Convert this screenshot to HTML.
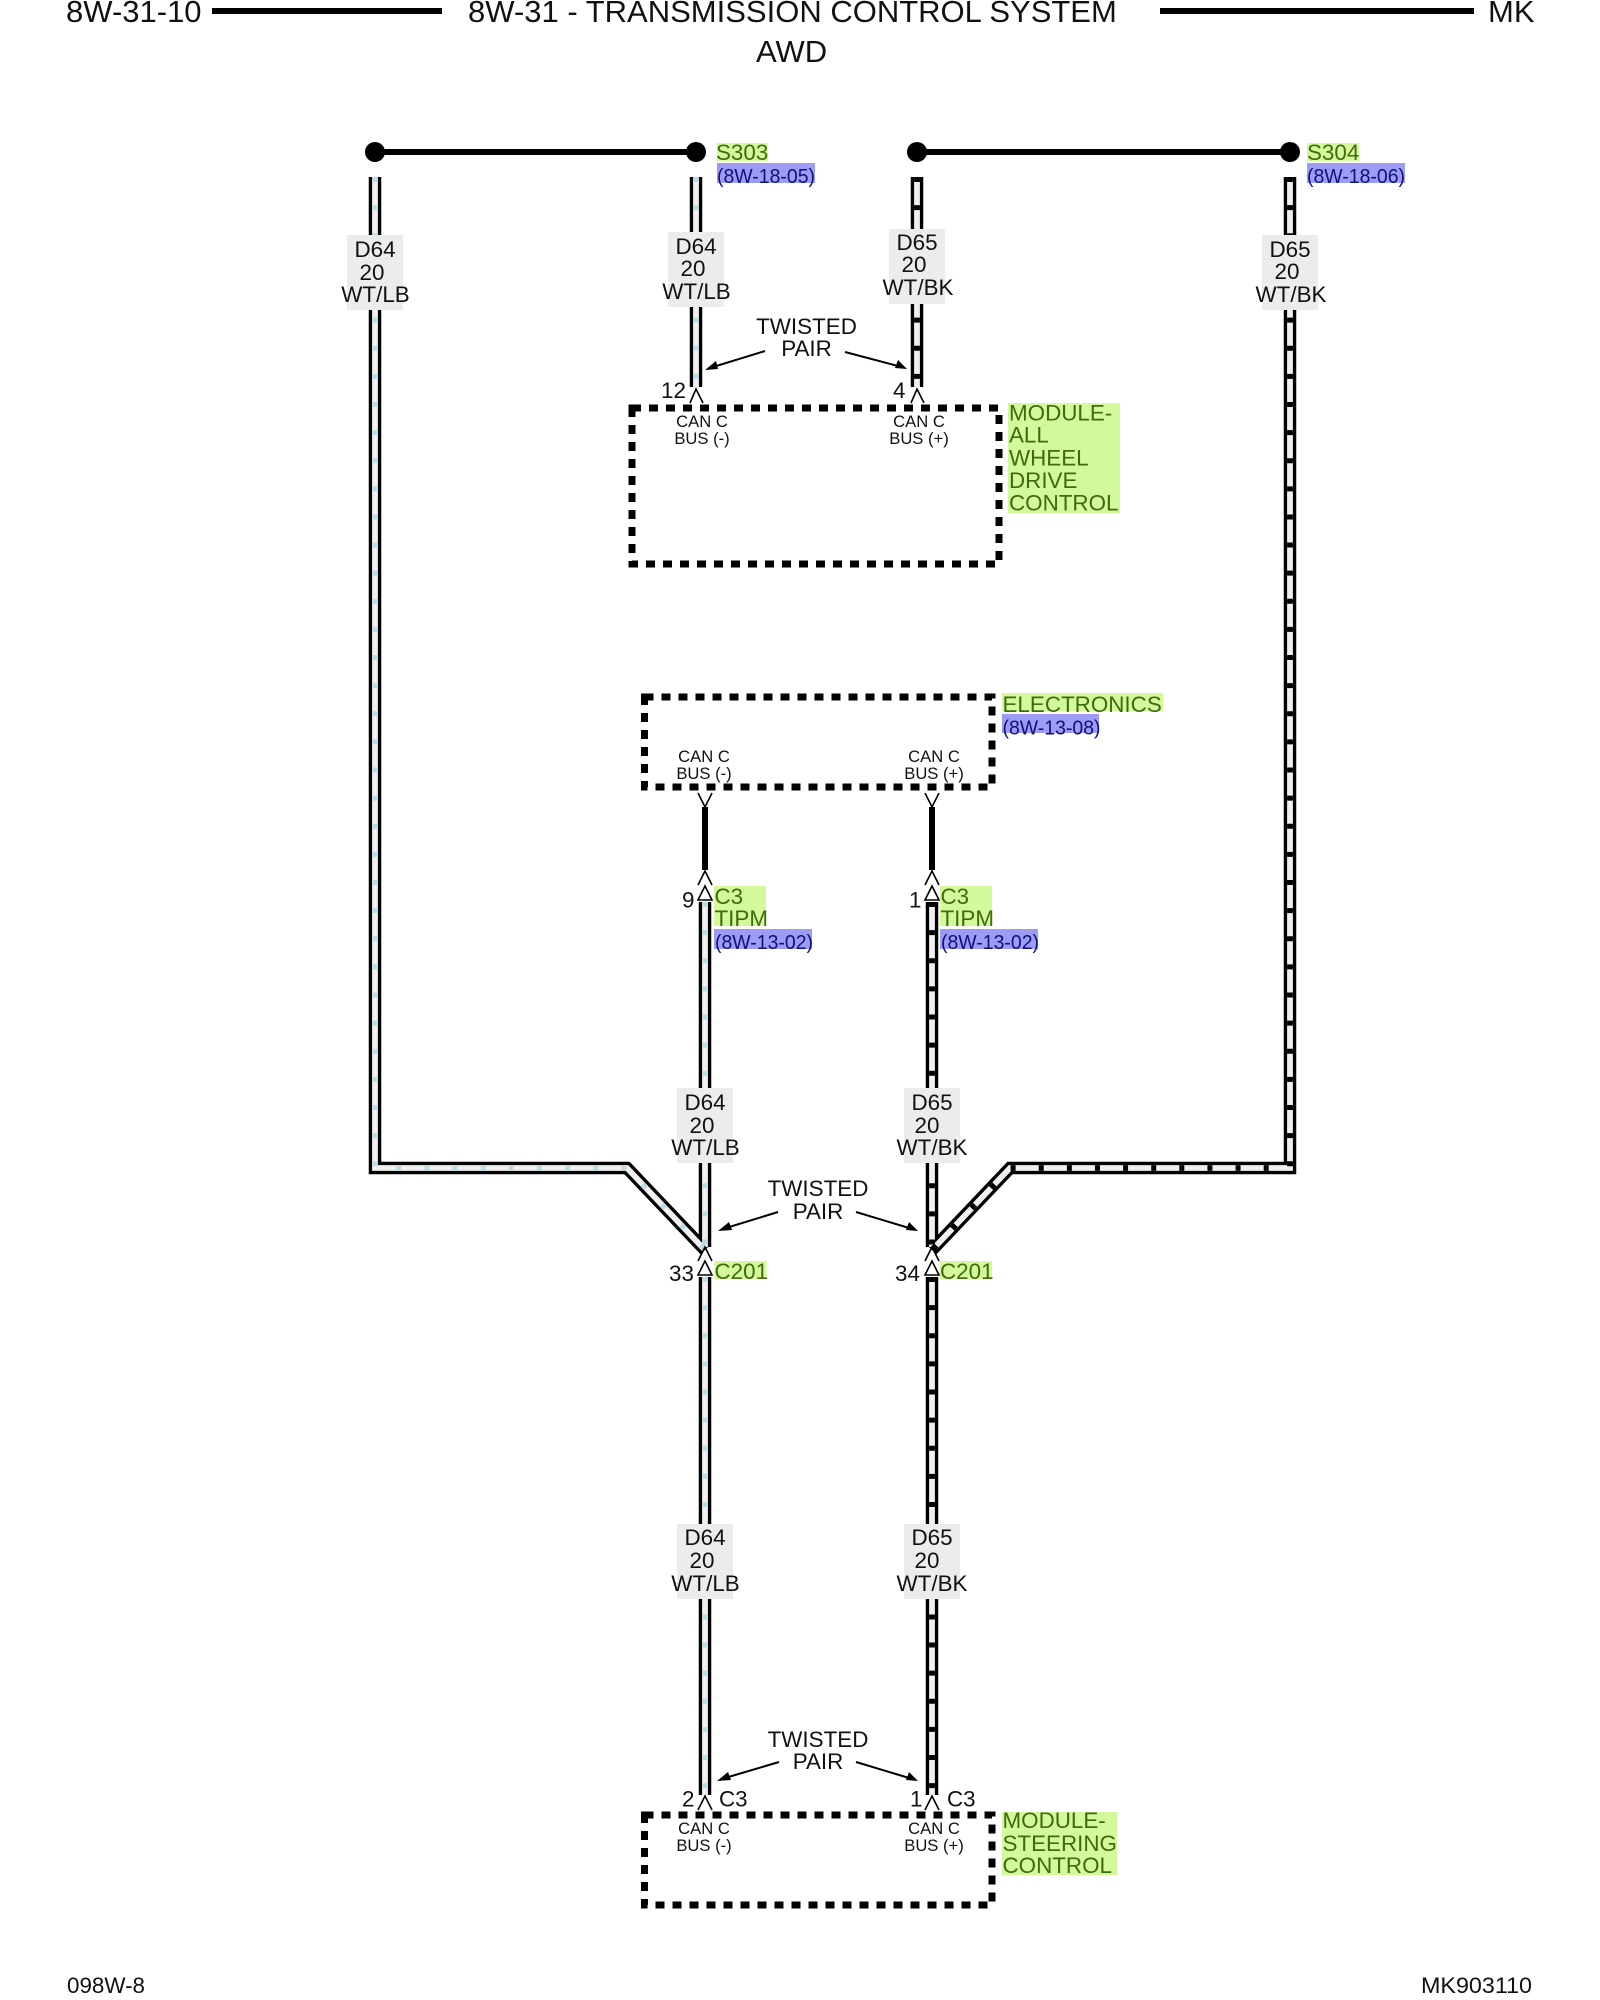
<!DOCTYPE html>
<html>
<head>
<meta charset="utf-8">
<style>
html,body{margin:0;padding:0;background:#fff;width:1600px;height:2000px;overflow:hidden}
svg{display:block}
text{font-family:"Liberation Sans",sans-serif;font-size:22.4px;fill:#111}
.h{font-size:31px}
.s{font-size:16.6px;text-anchor:middle}
.m{text-anchor:middle}
.g{fill:#3f6b10}
.p{fill:#10107a;font-size:20px}
.gb{fill:#d3f99a}
.pb{fill:#9c9cf5}
.lb{fill:#ececec}
.bk{fill:none;stroke:#000;stroke-width:12.5;stroke-miterlimit:10}
.in{fill:none;stroke:#f0f0f0;stroke-width:5.8;stroke-miterlimit:10}
.db{fill:none;stroke:#bcdde6;stroke-width:5.8;stroke-dasharray:5 23.12}
.dk{fill:none;stroke:#000;stroke-width:5.8;stroke-dasharray:5 23.12}
.box{fill:none;stroke:#000;stroke-width:7;stroke-dasharray:9 8}
.chev{fill:none;stroke:#000;stroke-width:1.6}
.chevw{fill:#fff;stroke:#000;stroke-width:1.6}
.ar{stroke:#000;stroke-width:2;fill:none}
</style>
</head>
<body>
<svg width="1600" height="2000" viewBox="0 0 1600 2000" xmlns="http://www.w3.org/2000/svg">
<rect width="1600" height="2000" fill="#fff"/>

<!-- header -->
<text class="h" x="66" y="22">8W-31-10</text>
<rect x="212" y="8" width="230" height="6" fill="#000"/>
<text class="h" x="468" y="22">8W-31 - TRANSMISSION CONTROL SYSTEM</text>
<rect x="1160" y="8" width="314" height="6" fill="#000"/>
<text class="h" x="1488" y="22">MK</text>
<text class="h" x="756" y="62">AWD</text>

<!-- splices -->
<line x1="375" y1="152" x2="696" y2="152" stroke="#000" stroke-width="6"/>
<circle cx="375" cy="152" r="10"/><circle cx="696" cy="152" r="10"/>
<line x1="917" y1="152" x2="1290" y2="152" stroke="#000" stroke-width="6"/>
<circle cx="917" cy="152" r="10"/><circle cx="1290" cy="152" r="10"/>

<!-- wires: black outer -->
<path class="bk" d="M375 177V1168H627L705 1250"/>
<path class="bk" d="M696 177V387"/>
<path class="bk" d="M917 177V387"/>
<path class="bk" d="M1290 177V1168H1010L932 1250"/>
<path class="bk" d="M705 902V1247M705 1277V1795"/>
<path class="bk" d="M932 902V1247M932 1277V1795"/>
<!-- inner -->
<path class="in" d="M375 177V1168H627L703 1248"/>
<path class="in" d="M696 177V387"/>
<path class="in" d="M917 177V387"/>
<path class="in" d="M1290 177V1168H1010L934 1248"/>
<path class="in" d="M705 902V1247M705 1277V1795"/>
<path class="in" d="M932 902V1247M932 1277V1795"/>
<!-- ticks -->
<path class="db" d="M375 177V1168H627L705 1250"/>
<path class="db" d="M696 177V387"/>
<path class="dk" d="M917 177V387"/>
<path class="dk" d="M1290 177V1168H1010L932 1250"/>
<path class="db" d="M705 902V1247M705 1277V1795"/>
<path class="dk" d="M932 902V1247M932 1277V1795"/>
<!-- short solid stubs -->
<rect x="702" y="807" width="6" height="63" fill="#000"/>
<rect x="929" y="807" width="6" height="63" fill="#000"/>

<!-- dashed module boxes -->
<rect class="box" x="632" y="408" width="367" height="156"/>
<rect class="box" x="644.5" y="697" width="347.5" height="90"/>
<rect class="box" x="644.5" y="1815" width="347.5" height="90"/>

<!-- chevrons -->
<path class="chev" d="M690 403L696 389L703 403"/>
<path class="chev" d="M911 403L917 389L924 403"/>
<path class="chev" d="M698 793L705 807L712 793"/>
<path class="chev" d="M925 793L932 807L939 793"/>
<path class="chev" d="M698 885L705 871L712 885"/>
<path class="chev" d="M925 885L932 871L939 885"/>
<path class="chevw" d="M698 900L705 886L712 900Z"/>
<path class="chevw" d="M925 900L932 886L939 900Z"/>
<path class="chev" d="M698 1261L705 1247L712 1261"/>
<path class="chev" d="M925 1261L932 1247L939 1261"/>
<path class="chevw" d="M698 1275L705 1261L712 1275Z"/>
<path class="chevw" d="M925 1275L932 1261L939 1275Z"/>
<path class="chev" d="M698 1810L705 1796L712 1810"/>
<path class="chev" d="M925 1810L932 1796L939 1810"/>

<!-- wire labels -->
<rect class="lb" x="347" y="235" width="56" height="75"/>
<text class="m" x="375" y="257">D64</text><text class="m" x="372" y="280">20</text><text class="m" x="375.5" y="302">WT/LB</text>
<rect class="lb" x="668" y="232" width="56" height="75"/>
<text class="m" x="696" y="254">D64</text><text class="m" x="693" y="276">20</text><text class="m" x="696.5" y="299">WT/LB</text>
<rect class="lb" x="889" y="229" width="56" height="75"/>
<text class="m" x="917" y="250">D65</text><text class="m" x="914" y="272">20</text><text class="m" x="918" y="295">WT/BK</text>
<rect class="lb" x="1262" y="235" width="56" height="75"/>
<text class="m" x="1290" y="257">D65</text><text class="m" x="1287" y="279">20</text><text class="m" x="1291" y="302">WT/BK</text>

<rect class="lb" x="677" y="1088" width="56" height="75"/>
<text class="m" x="705" y="1110">D64</text><text class="m" x="702" y="1133">20</text><text class="m" x="705.5" y="1155">WT/LB</text>
<rect class="lb" x="904" y="1088" width="56" height="75"/>
<text class="m" x="932" y="1110">D65</text><text class="m" x="927" y="1133">20</text><text class="m" x="932" y="1155">WT/BK</text>

<rect class="lb" x="677" y="1524" width="56" height="75"/>
<text class="m" x="705" y="1545">D64</text><text class="m" x="702" y="1568">20</text><text class="m" x="705.5" y="1591">WT/LB</text>
<rect class="lb" x="904" y="1524" width="56" height="75"/>
<text class="m" x="932" y="1545">D65</text><text class="m" x="927" y="1568">20</text><text class="m" x="932" y="1591">WT/BK</text>

<!-- twisted pair -->
<text class="m" x="806.5" y="334">TWISTED</text><text class="m" x="806.5" y="356">PAIR</text>
<line class="ar" x1="765" y1="351" x2="713" y2="367"/><path d="M705 370L716 361L718 369Z"/>
<line class="ar" x1="845" y1="352" x2="898" y2="366"/><path d="M907 369L895 368L898 360Z"/>
<text class="m" x="818" y="1196">TWISTED</text><text class="m" x="818" y="1219">PAIR</text>
<line class="ar" x1="778" y1="1212" x2="726" y2="1228"/><path d="M718 1231L729 1222L732 1230Z"/>
<line class="ar" x1="856" y1="1212" x2="909" y2="1228"/><path d="M918 1231L906 1230L909 1222Z"/>
<text class="m" x="818" y="1747">TWISTED</text><text class="m" x="818" y="1769">PAIR</text>
<line class="ar" x1="779" y1="1762" x2="725" y2="1778"/><path d="M717 1781L728 1772L731 1780Z"/>
<line class="ar" x1="856" y1="1762" x2="909" y2="1778"/><path d="M918 1781L906 1780L909 1772Z"/>

<!-- pin numbers -->
<text x="661" y="398">12</text>
<text x="893" y="398">4</text>
<text x="682" y="907.5">9</text>
<text x="909" y="907.5">1</text>
<text x="669" y="1281">33</text>
<text x="895" y="1281">34</text>
<text x="682" y="1806.5">2</text>
<text x="719" y="1806.5">C3</text>
<text x="910" y="1806.5">1</text>
<text x="947" y="1806.5">C3</text>

<!-- pin labels -->
<text class="s" x="702" y="427">CAN C</text><text class="s" x="702" y="444">BUS (-)</text>
<text class="s" x="919" y="427">CAN C</text><text class="s" x="919" y="444">BUS (+)</text>
<text class="s" x="704" y="762">CAN C</text><text class="s" x="704" y="779">BUS (-)</text>
<text class="s" x="934" y="762">CAN C</text><text class="s" x="934" y="779">BUS (+)</text>
<text class="s" x="704" y="1834">CAN C</text><text class="s" x="704" y="1851">BUS (-)</text>
<text class="s" x="934" y="1834">CAN C</text><text class="s" x="934" y="1851">BUS (+)</text>

<!-- S303 / S304 -->
<rect class="gb" x="717" y="143" width="51" height="18"/><text class="g" x="716" y="160">S303</text>
<rect class="pb" x="717" y="163" width="98" height="20"/><text class="p" x="717" y="183" textLength="98" lengthAdjust="spacingAndGlyphs">(8W-18-05)</text>
<rect class="gb" x="1307" y="143" width="52" height="18"/><text class="g" x="1307" y="160">S304</text>
<rect class="pb" x="1307" y="163" width="98" height="20"/><text class="p" x="1307" y="183" textLength="98" lengthAdjust="spacingAndGlyphs">(8W-18-06)</text>

<!-- module AWD -->
<rect class="gb" x="1008" y="403" width="112" height="110"/>
<text class="g" x="1009" y="420.5">MODULE-</text>
<text class="g" x="1009" y="442.5">ALL</text>
<text class="g" x="1009" y="465.5">WHEEL</text>
<text class="g" x="1009" y="488">DRIVE</text>
<text class="g" x="1009" y="510.5">CONTROL</text>

<!-- electronics -->
<rect class="gb" x="1002" y="693" width="161" height="18"/><text class="g" x="1002.5" y="712">ELECTRONICS</text>
<rect class="pb" x="1002" y="714" width="97" height="19"/><text class="p" x="1002.5" y="734.5" textLength="98" lengthAdjust="spacingAndGlyphs">(8W-13-08)</text>

<!-- C3 TIPM -->
<rect class="gb" x="714" y="886" width="52" height="40"/>
<text class="g" x="714.5" y="904">C3</text><text class="g" x="714.5" y="926">TIPM</text>
<rect class="pb" x="714" y="929" width="98" height="20"/><text class="p" x="715" y="949" textLength="98" lengthAdjust="spacingAndGlyphs">(8W-13-02)</text>
<rect class="gb" x="940" y="886" width="52" height="40"/>
<text class="g" x="940.5" y="904">C3</text><text class="g" x="940.5" y="926">TIPM</text>
<rect class="pb" x="940" y="929" width="98" height="20"/><text class="p" x="941" y="949" textLength="98" lengthAdjust="spacingAndGlyphs">(8W-13-02)</text>

<!-- C201 -->
<rect class="gb" x="714.5" y="1261" width="52" height="18"/><text class="g" x="714.5" y="1279">C201</text>
<rect class="gb" x="940" y="1261" width="52" height="18"/><text class="g" x="940" y="1279">C201</text>

<!-- module steering -->
<rect class="gb" x="1002" y="1812" width="115" height="63"/>
<text class="g" x="1002.5" y="1828">MODULE-</text>
<text class="g" x="1002.5" y="1851">STEERING</text>
<text class="g" x="1002.5" y="1873">CONTROL</text>

<!-- footer -->
<text x="67" y="1993">098W-8</text>
<text x="1421" y="1993" textLength="111" lengthAdjust="spacingAndGlyphs">MK903110</text>
</svg>
</body>
</html>
